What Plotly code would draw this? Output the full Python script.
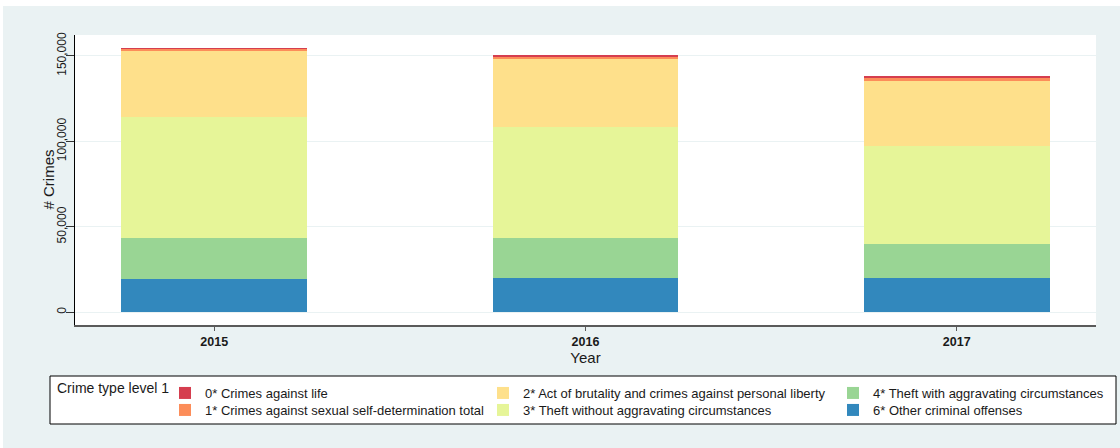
import plotly.graph_objects as go

# values (stacked bars, bottom to top)
years = [2015, 2016, 2017]
other_offenses = [19700, 20200, 20200]
theft_aggravating = [23800, 23000, 19900]
theft_plain = [70800, 65100, 57300]
brutality_liberty = [38800, 39800, 38000]
sexual_self_det = [1300, 1800, 2200]
crimes_life = [100, 800, 100]

# name, values, colour, legend slot (x of the text, y of the row), in page pixels
series = [
    ("6* Other criminal offenses", other_offenses, "#3288bd", 873, 410),
    ("4* Theft with aggravating circumstances", theft_aggravating, "#99d594", 873, 393),
    ("3* Theft without aggravating circumstances", theft_plain, "#e6f598", 523, 410),
    ("2* Act of brutality and crimes against personal liberty", brutality_liberty, "#fee08b", 523, 393),
    ("1* Crimes against sexual self-determination total", sexual_self_det, "#fc8d59", 205, 410),
    ("0* Crimes against life", crimes_life, "#d53e4f", 205, 393),
]

BG = "#eaf2f3"
FONT = "Liberation Sans, Arial, sans-serif"
W, H = 1120, 448
OX, OY = 3, 6  # page offset of the figure
# plot area in page pixels
PX0, PX1, PY0, PY1 = 75, 1096, 35, 325
L, R, T, B = PX0 - OX, W - (PX1 - OX), PY0 - OY, H - (PY1 - OY)


def px_x(v):
    return (v - PX0) / (PX1 - PX0)


def px_y(v):
    return (PY1 - v) / (PY1 - PY0)


fig = go.Figure()
layout_legends = {}
for i, (name, vals, color, tx, ty) in enumerate(series):
    key = f"legend{i + 2}"
    fig.add_trace(go.Bar(
        x=years, y=vals, name=name, width=0.5,
        marker=dict(color=color, line=dict(width=0)),
        legend=key, showlegend=True,
    ))
    layout_legends[key] = dict(
        orientation="v", xref="container", yref="container",
        x=(tx - 40 - OX) / W, y=1 - (ty - OY) / H,
        xanchor="left", yanchor="middle", bgcolor="rgba(0,0,0,0)",
        font=dict(family=FONT, size=13, color="#1a1a1a"),
    )

fig.update_layout(
    width=W, height=H,
    margin=dict(l=L, r=R, t=T, b=B, autoexpand=False),
    paper_bgcolor=BG, plot_bgcolor="white",
    barmode="stack", bargap=0, showlegend=True,
    font=dict(family=FONT, color="#1a1a1a"),
    xaxis=dict(
        range=[2014.625, 2017.375], tickvals=years, ticktext=[str(y) for y in years],
        showgrid=False, zeroline=False, automargin=False,
        showline=True, linecolor="#5a5a5a", linewidth=2,
        ticks="outside", ticklen=4, tickcolor="#5a5a5a",
        tickfont=dict(size=12.5, weight="bold", color="#1a1a1a"),
        title=dict(text="Year", font=dict(size=15), standoff=4),
    ),
    yaxis=dict(
        range=[-7430, 162200], tickvals=[0, 50000, 100000, 150000],
        tickformat=",d", tickangle=-90, automargin=False,
        showgrid=True, gridcolor=BG, gridwidth=1, zeroline=False,
        showline=True, linecolor="black", linewidth=1,
        ticks="outside", ticklen=8, tickcolor="#333", ticklabelstandoff=-5,
        tickfont=dict(size=12, color="#1a1a1a"),
    ),
    shapes=[dict(
        type="rect", xref="paper", yref="paper", layer="below",
        x0=px_x(50), x1=px_x(1116), y0=px_y(424), y1=px_y(376),
        line=dict(color="black", width=1), fillcolor="white",
    )],
    annotations=[
        dict(text="Crime type level 1", xref="paper", yref="paper",
             x=px_x(55), y=px_y(388), xanchor="left", yanchor="middle",
             showarrow=False, font=dict(size=14, color="#1a1a1a")),
        dict(text="# Crimes", xref="paper", yref="paper", textangle=-90,
             x=px_x(47.5), y=px_y(180), xanchor="center", yanchor="middle",
             showarrow=False, font=dict(size=15, color="#1a1a1a")),
    ],
    **layout_legends,
)

fig.write_html("out.html", post_script="document.body.style.margin='6px 0 0 3px';")
